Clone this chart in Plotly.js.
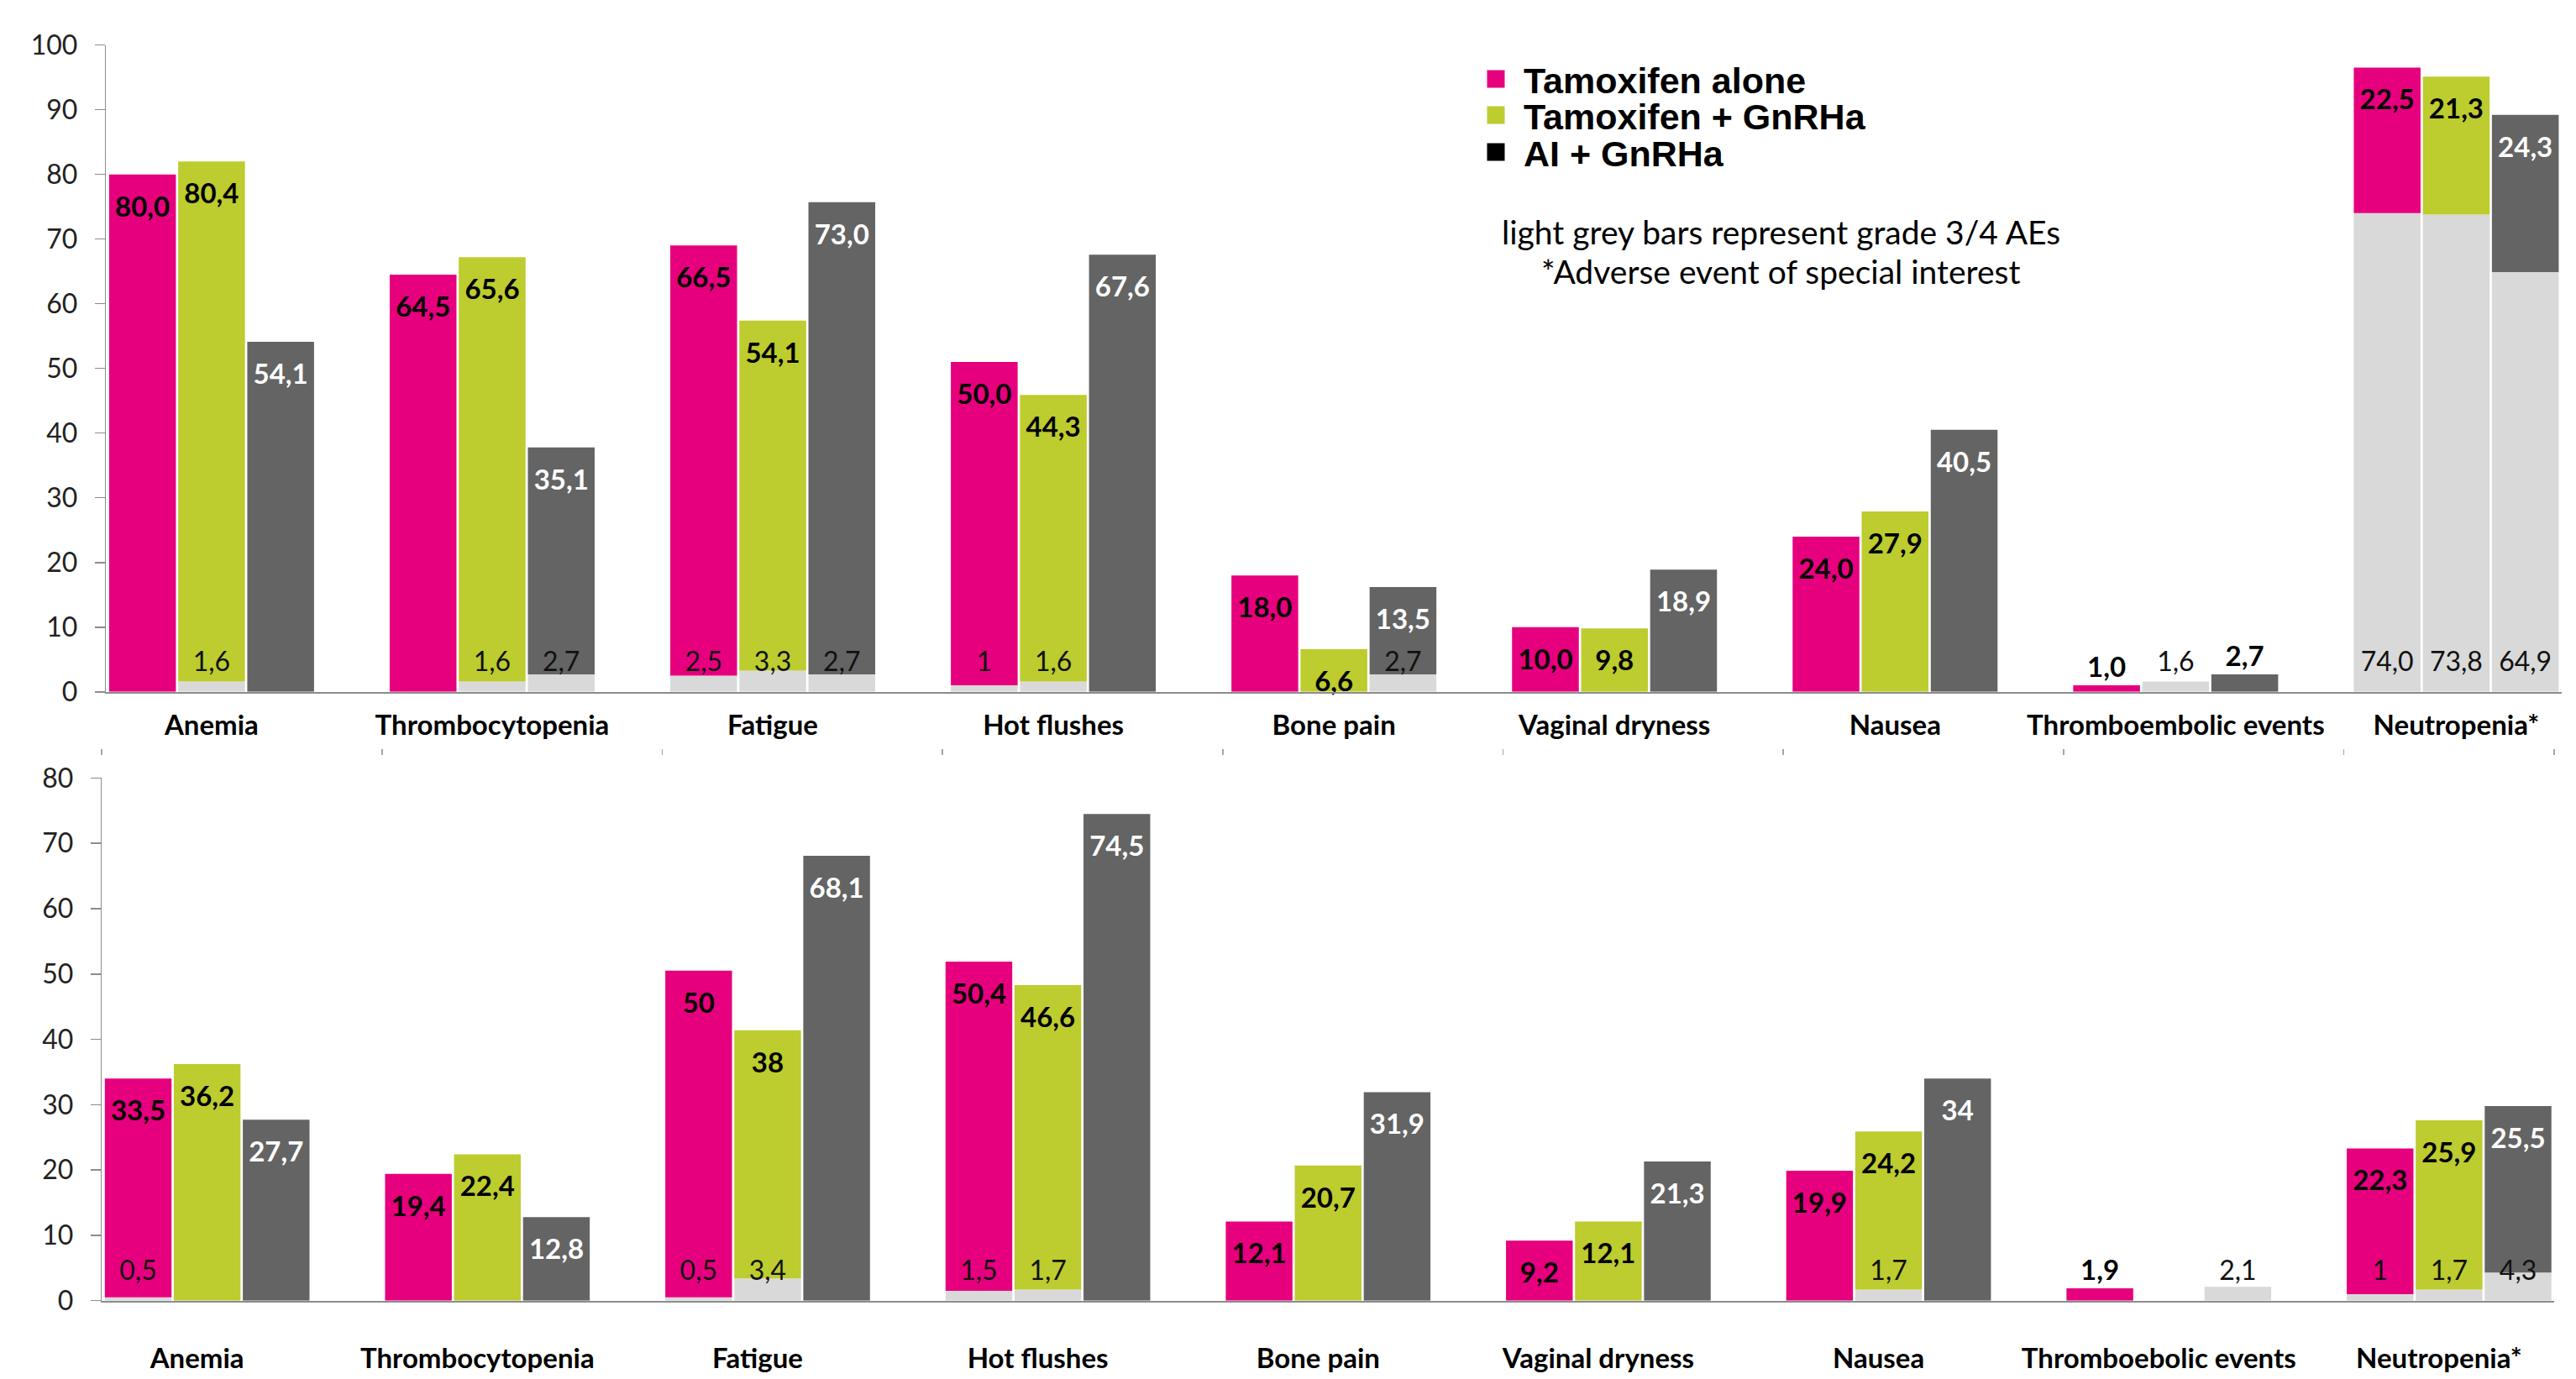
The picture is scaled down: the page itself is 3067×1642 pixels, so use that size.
<!DOCTYPE html>
<html>
<head>
<meta charset="utf-8">
<script src="https://cdn.plot.ly/plotly-3.0.1.min.js"></script>
<style>
  html, body { margin: 0; padding: 0; background: #ffffff; }
  #chart { width: 3067px; height: 1642px; }
</style>
</head>
<body>
<div id="chart"></div>
<script>
// ---------------- DATA (values as printed in the reference, decimal comma) ----------------
const seriesNames = ['Tamoxifen alone', 'Tamoxifen + GnRHa', 'AI + GnRHa'];

const categoriesTop = ['Anemia', 'Thrombocytopenia', 'Fatigue', 'Hot flushes', 'Bone pain',
  'Vaginal dryness', 'Nausea', 'Thromboembolic events', 'Neutropenia*'];
const categoriesBottom = ['Anemia', 'Thrombocytopenia', 'Fatigue', 'Hot flushes', 'Bone pain',
  'Vaginal dryness', 'Nausea', 'Thromboebolic events', 'Neutropenia*'];

// Top panel: any-grade part (coloured) and grade 3/4 part (light grey)
const topTamAlone      = ['80,0', '64,5', '66,5', '50,0', '18,0', '10,0', '24,0', '1,0', '22,5'];
const topTamGnRHa      = ['80,4', '65,6', '54,1', '44,3', '6,6', '9,8', '27,9', '', '21,3'];
const topAiGnRHa       = ['54,1', '35,1', '73,0', '67,6', '13,5', '18,9', '40,5', '2,7', '24,3'];
const topTamAloneG34   = ['', '', '2,5', '1', '', '', '', '', '74,0'];
const topTamGnRHaG34   = ['1,6', '1,6', '3,3', '1,6', '', '', '', '1,6', '73,8'];
const topAiGnRHaG34    = ['', '2,7', '2,7', '', '2,7', '', '', '', '64,9'];

// Bottom panel
const botTamAlone      = ['33,5', '19,4', '50', '50,4', '12,1', '9,2', '19,9', '1,9', '22,3'];
const botTamGnRHa      = ['36,2', '22,4', '38', '46,6', '20,7', '12,1', '24,2', '', '25,9'];
const botAiGnRHa       = ['27,7', '12,8', '68,1', '74,5', '31,9', '21,3', '34', '', '25,5'];
const botTamAloneG34   = ['0,5', '', '0,5', '1,5', '', '', '', '', '1'];
const botTamGnRHaG34   = ['', '', '3,4', '1,7', '', '', '1,7', '', '1,7'];
const botAiGnRHaG34    = ['', '', '', '', '', '', '', '2,1', '4,3'];

const yTicksTop = [0, 10, 20, 30, 40, 50, 60, 70, 80, 90, 100];
const yTicksBottom = [0, 10, 20, 30, 40, 50, 60, 70, 80];

// ---------------- STYLE ----------------
const COLORS = ['#E6007E', '#BDCC2E', '#646464'];
const LEGEND_COLORS = ['#E6007E', '#BDCC2E', '#000000'];
const INSIDE_TEXT = ['#000000', '#000000', '#ffffff'];
const LIGHT_GREY = '#D9D9D9';
const AXIS_GREY = '#8C8C8C';
const FONT = 'Lato, "Open Sans", sans-serif';
const X_RANGE = [-0.376, 8.375];
const SLOT = 0.2462;            // width of one series slot within a category
const BAR_W = 0.238;            // drawn bar width
const OFFSETS = [-SLOT, 0, SLOT];
const GRADE_LABEL_Y = 4.2;      // grade 3/4 labels sit just above the baseline
const OUTSIDE_BELOW = 5;        // bars shorter than this carry their label above
// a tiny invisible first line pushes inside labels a little below the bar top
const INSIDE_PAD = '<span style="font-size:4px;color:rgba(0,0,0,0)">.</span><br>';

const num = s => (s === '' ? null : parseFloat(s.replace(',', '.')));

function panelTraces(cats, colored, grey, xa, ya) {
  const traces = [];
  colored.forEach((vals, s) => {
    const xs = cats.map((_, i) => i + OFFSETS[s]);
    const g = grey[s].map(num);
    const v = vals.map(num);
    // grade 3/4 (light grey) segment
    traces.push({
      type: 'bar', xaxis: xa, yaxis: ya, x: xs, y: g, width: BAR_W,
      marker: { color: LIGHT_GREY }, showlegend: false, hoverinfo: 'skip',
      name: seriesNames[s] + ' grade 3/4'
    });
    // coloured segment stacked on top
    const inside = v.map(x => x !== null && x >= OUTSIDE_BELOW);
    traces.push({
      type: 'bar', xaxis: xa, yaxis: ya, x: xs, y: v,
      base: g.map(x => x || 0), width: BAR_W,
      marker: { color: COLORS[s] }, name: seriesNames[s], showlegend: false,
      text: vals.map((t, i) => (t === '' ? '' : (inside[i] ? INSIDE_PAD + t : t))),
      textposition: inside.map(f => (f ? 'inside' : 'outside')),
      insidetextanchor: 'end', textangle: 0,
      constraintext: 'none', cliponaxis: false, hoverinfo: 'skip',
      insidetextfont: { family: FONT, size: 33, weight: 'bold', color: INSIDE_TEXT[s] },
      outsidetextfont: { family: FONT, size: 33, weight: 'bold', color: '#000000' }
    });
  });
  // grade 3/4 value labels
  grey.forEach((vals, s) => {
    traces.push({
      type: 'scatter', mode: 'text', xaxis: xa, yaxis: ya,
      x: cats.map((_, i) => i + OFFSETS[s]),
      y: vals.map(t => (t === '' ? null : GRADE_LABEL_Y)),
      text: vals, textposition: 'middle center', cliponaxis: false,
      textfont: { family: FONT, size: 32, color: '#111111' },
      showlegend: false, hoverinfo: 'skip'
    });
  });
  return traces;
}

const data = [
  ...panelTraces(categoriesTop, [topTamAlone, topTamGnRHa, topAiGnRHa],
    [topTamAloneG34, topTamGnRHaG34, topAiGnRHaG34], 'x', 'y'),
  ...panelTraces(categoriesBottom, [botTamAlone, botTamGnRHa, botAiGnRHa],
    [botTamAloneG34, botTamGnRHaG34, botAiGnRHaG34], 'x2', 'y2')
];

// legend entries (one legend per row so the rows can sit tightly)
const legendIds = ['legend', 'legend2', 'legend3'];
seriesNames.forEach((n, s) => {
  data.push({
    type: 'scatter', mode: 'markers', x: [null], y: [null], xaxis: 'x', yaxis: 'y',
    name: n, legend: legendIds[s], showlegend: true, hoverinfo: 'skip',
    marker: { symbol: 'square', size: 16, color: LEGEND_COLORS[s],
              line: { width: 5, color: LEGEND_COLORS[s] } }
  });
});
// empty carrier so the boundary-tick axis between the panels is always drawn
data.push({ type: 'scatter', mode: 'markers', x: [null], y: [null], xaxis: 'x3', yaxis: 'y2',
  showlegend: false, hoverinfo: 'skip' });

const W = 3067, H = 1642;
const px = v => v / W, py = v => (H - v) / H;

function legendAt(yPix) {
  return {
    x: px(1748), y: py(yPix), xanchor: 'left', yanchor: 'middle',
    bgcolor: 'rgba(0,0,0,0)', borderwidth: 0, tracegroupgap: 0, itemwidth: 56,
    font: { family: '"Liberation Sans", Arial, sans-serif', size: 43, weight: 'bold', color: '#000000' }
  };
}

const yAxisBase = {
  ticks: 'outside', ticklen: 12, tickwidth: 1.5, tickcolor: AXIS_GREY,
  showline: true, linecolor: AXIS_GREY, linewidth: 1.5,
  showgrid: false, zeroline: false, tickmode: 'array',
  tickfont: { family: FONT, size: 32, color: '#222222' }, ticklabelstandoff: 14
};
const xAxisBase = {
  range: X_RANGE, tickmode: 'array', ticks: '', showgrid: false, zeroline: false,
  showline: true, linecolor: AXIS_GREY, linewidth: 2.5,
  tickfont: { family: FONT, size: 33, weight: 'bold', color: '#000000' }
};

const layout = {
  width: W, height: H,
  margin: { l: 0, r: 0, t: 0, b: 0 },
  paper_bgcolor: '#ffffff', plot_bgcolor: 'rgba(0,0,0,0)',
  barmode: 'overlay', hovermode: false, showlegend: true,
  xaxis: Object.assign({}, xAxisBase, {
    domain: [px(126.3), px(3049.7)], anchor: 'y',
    tickvals: categoriesTop.map((_, i) => i), ticktext: categoriesTop,
    ticklabelstandoff: 9
  }),
  yaxis: Object.assign({}, yAxisBase, {
    domain: [py(823.8), py(53.6)], range: [0, 100], anchor: 'x', tickvals: yTicksTop
  }),
  xaxis2: Object.assign({}, xAxisBase, {
    domain: [px(121.2), px(3041)], anchor: 'y2',
    tickvals: categoriesBottom.map((_, i) => i), ticktext: categoriesBottom,
    ticklabelstandoff: 38, ticklabelshift: -12
  }),
  yaxis2: Object.assign({}, yAxisBase, {
    domain: [py(1548.7), py(926.4)], range: [0, 80], anchor: 'x2', tickvals: yTicksBottom
  }),
  // faint category-boundary tick row between the panels
  xaxis3: {
    overlaying: 'x2', anchor: 'free', position: py(891), side: 'bottom',
    range: X_RANGE, tickmode: 'array',
    tickvals: categoriesBottom.map((_, i) => X_RANGE[0] + i).concat([X_RANGE[1]]),
    ticks: 'outside', ticklen: 7, tickwidth: 1.5, tickcolor: '#A6A6A6',
    showticklabels: false, showline: false, showgrid: false, zeroline: false
  },
  legend: legendAt(94),
  legend2: legendAt(137),
  legend3: legendAt(181),
  annotations: [
    { xref: 'paper', yref: 'paper', x: px(2120), y: py(276), xanchor: 'center', yanchor: 'middle',
      showarrow: false, text: 'light grey bars represent grade 3/4 AEs',
      font: { family: FONT, size: 39, color: '#000000' } },
    { xref: 'paper', yref: 'paper', x: px(2120), y: py(323), xanchor: 'center', yanchor: 'middle',
      showarrow: false, text: '*Adverse event of special interest',
      font: { family: FONT, size: 39, color: '#000000' } }
  ]
};

Plotly.newPlot('chart', data, layout, { displayModeBar: false, staticPlot: true });
</script>
</body>
</html>
